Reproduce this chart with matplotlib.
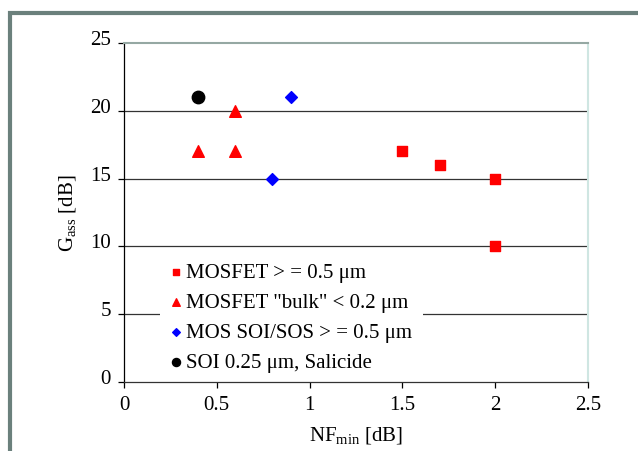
import matplotlib
matplotlib.use('Agg')
import matplotlib.pyplot as plt
import matplotlib.transforms as mtransforms
from matplotlib.patches import Rectangle

plt.rcParams['font.family'] = ['Liberation Serif', 'DejaVu Serif']
plt.rcParams['mathtext.fontset'] = 'custom'
plt.rcParams['mathtext.rm'] = 'Liberation Serif'

# data
mosfet_x = [1.5, 1.7, 2.0, 2.0]
mosfet_y = [17, 16, 15, 10]
bulk_x = [0.4, 0.6, 0.6]
bulk_y = [17, 20, 17]
soi_sos_x = [0.8, 0.9]
soi_sos_y = [15, 21]
soi_x = [0.4]
soi_y = [21]

labels = ['MOSFET > = 0.5 \u03bcm',
          'MOSFET "bulk" < 0.2 \u03bcm',
          'MOS SOI/SOS > = 0.5 \u03bcm',
          'SOI 0.25 \u03bcm, Salicide']

fig = plt.figure(figsize=(6.38, 4.52), dpi=100)

# gray outer frame
fig.patches.append(Rectangle((9.5 / 638, -0.1), 1.2, (452 - 14) / 452 + 0.1,
                             transform=fig.transFigure, fill=False,
                             edgecolor='#6b807c', linewidth=3, zorder=0))

ax = fig.add_axes([124 / 638, (452 - 383) / 452, 464 / 638, 339 / 452])

ax.scatter(mosfet_x, mosfet_y, marker='s', s=60, color='#ff0000', label=labels[0], zorder=3)
ax.scatter(bulk_x, bulk_y, marker='^', s=70, color='#ff0000', label=labels[1], zorder=3)
ax.scatter(soi_sos_x, soi_sos_y, marker='D', s=36, color='#0000ff', label=labels[2], zorder=3)
ax.scatter(soi_x, soi_y, marker='o', s=80, color='#000000', label=labels[3], zorder=3)

ax.set_xlim(0, 2.5)
ax.set_ylim(0, 25)
ax.set_xticks([0, 0.5, 1, 1.5, 2, 2.5])
ax.set_xticklabels(['0', '0.5', '1', '1.5', '2', '2.5'])
ax.set_yticks([0, 5, 10, 15, 20, 25])

for yv in [5, 10, 15, 20]:
    ax.axhline(yv, color='#333333', linewidth=0.9, zorder=1)

ax.spines['top'].set_color('#95a8a3')
ax.spines['top'].set_linewidth(1.5)
ax.spines['right'].set_color('#cfe6e2')
ax.spines['right'].set_linewidth(1.5)
ax.spines['left'].set_color('black')
ax.spines['left'].set_linewidth(0.9)
ax.spines['bottom'].set_color('#333333')
ax.spines['bottom'].set_linewidth(0.9)

ax.tick_params(axis='both', labelsize=15, length=4.3, width=0.9)
ax.tick_params(axis='x', pad=5)
ax.tick_params(axis='y', pad=5)

# y tick labels sit a little above their ticks in the original
shift = mtransforms.ScaledTranslation(0, 6 / 100, fig.dpi_scale_trans)
for lbl in ax.get_yticklabels():
    lbl.set_transform(lbl.get_transform() + shift)

ax.set_xlabel(r'NF$_{\mathrm{min}}$ [dB]', fontsize=15, labelpad=8)
ax.set_ylabel(r'G$_{\mathrm{ass}}$ [dB]', fontsize=15, labelpad=8)

# white box behind the legend, hides part of the 5 dB gridline
ax.add_patch(Rectangle((36 / 464, 5 / 339), 263 / 464, 126 / 339,
                       transform=ax.transAxes, facecolor='white',
                       edgecolor='none', zorder=4))

leg = ax.legend(loc='lower left', bbox_to_anchor=(44 / 464, 10 / 339), frameon=False,
                fontsize=15, handletextpad=0.05, handlelength=0.8, borderpad=0,
                borderaxespad=0, labelspacing=0.5, markerscale=0.65)
leg.set_zorder(5)

fig.savefig('out.png', dpi=100)
